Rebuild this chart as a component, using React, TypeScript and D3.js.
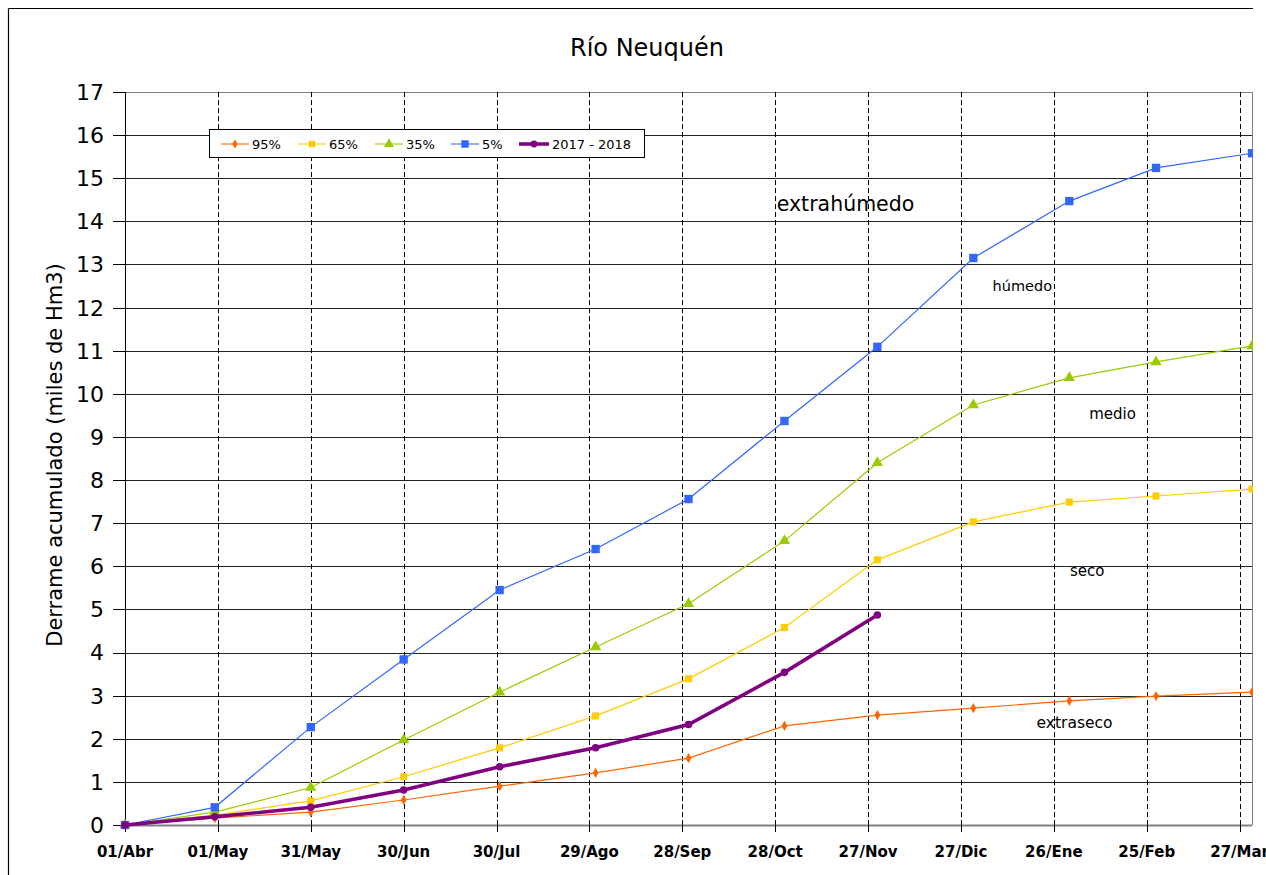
import React from "react";
import * as d3 from "d3";

const dates: Date[] = [
  new Date(Date.UTC(2017, 3, 1)),
  new Date(Date.UTC(2017, 3, 30)),
  new Date(Date.UTC(2017, 4, 31)),
  new Date(Date.UTC(2017, 5, 30)),
  new Date(Date.UTC(2017, 6, 31)),
  new Date(Date.UTC(2017, 7, 31)),
  new Date(Date.UTC(2017, 8, 30)),
  new Date(Date.UTC(2017, 9, 31)),
  new Date(Date.UTC(2017, 10, 30)),
  new Date(Date.UTC(2017, 11, 31)),
  new Date(Date.UTC(2018, 0, 31)),
  new Date(Date.UTC(2018, 1, 28)),
  new Date(Date.UTC(2018, 2, 31)),
];

const p95 = [0, 0.16, 0.3, 0.58, 0.9, 1.21, 1.55, 2.3, 2.55, 2.71, 2.88, 2.99, 3.08];
const p65 = [0, 0.23, 0.56, 1.12, 1.79, 2.53, 3.39, 4.58, 6.15, 7.03, 7.49, 7.63, 7.79];
const p35 = [0, 0.3, 0.87, 1.97, 3.08, 4.13, 5.13, 6.59, 8.4, 9.74, 10.37, 10.74, 11.11];
const p5 = [0, 0.41, 2.27, 3.84, 5.45, 6.4, 7.56, 9.37, 11.09, 13.15, 14.47, 15.24, 15.58];
const y2017 = [0, 0.19, 0.41, 0.81, 1.35, 1.79, 2.33, 3.54, 4.87];

const tickLabels = ["01/Abr", "01/May", "31/May", "30/Jun", "30/Jul", "29/Ago", "28/Sep", "28/Oct", "27/Nov", "27/Dic", "26/Ene", "25/Feb", "27/Mar"];
const yTicks = d3.range(0, 18);

// annotation anchors: days after 01/Abr and value (left edge / baseline)
const annotations = [
  { text: "extrahúmedo", day: 210.5, v: 14.25, size: 20.5 },
  { text: "húmedo", day: 280.2, v: 12.39, size: 14.5 },
  { text: "medio", day: 311.4, v: 9.41, size: 15 },
  { text: "seco", day: 305.2, v: 5.78, size: 15 },
  { text: "extraseco", day: 294.4, v: 2.24, size: 15.5 },
];

type Series = { name: string; values: number[]; color: string; width: number; symbol: d3.SymbolType; size: number };
const series: Series[] = [
  { name: "95%", values: p95, color: "#FF6600", width: 1.2, symbol: d3.symbolDiamond, size: 30 },
  { name: "65%", values: p65, color: "#FFCC00", width: 1.2, symbol: d3.symbolSquare, size: 50 },
  { name: "35%", values: p35, color: "#99CC00", width: 1.2, symbol: d3.symbolTriangle, size: 55 },
  { name: "5%", values: p5, color: "#3366FF", width: 1.2, symbol: d3.symbolSquare, size: 70 },
  { name: "2017 - 2018", values: y2017, color: "#800080", width: 3.5, symbol: d3.symbolCircle, size: 45 },
];

const FONT = "'DejaVu Sans', Verdana, sans-serif";

export default function App() {
  const L = 125, R = 1252, T = 92, B = 825;
  const start = dates[0];
  const end = dates[dates.length - 1];
  const x = d3.scaleUtc().domain([start, end]).range([L, R]);
  const y = d3.scaleLinear().domain([0, 17]).range([B, T]);
  const tickDates = tickLabels.map((_, i) => d3.utcDay.offset(start, i * 30));
  const dayX = (day: number) => x(new Date(start.getTime() + day * 86400000));

  const line = d3
    .line<number>()
    .x((_, i) => x(dates[i]))
    .y((d) => y(d));

  return (
    <svg width={1266} height={875} style={{ position: "absolute", left: 0, top: 0, background: "#fff" }} fontFamily={FONT}>
      <rect x={0} y={0} width={1266} height={875} fill="#fff" />
      {/* outer frame */}
      <line x1={8.5} y1={8.5} x2={1253} y2={8.5} stroke="#000" strokeWidth={1.2} />
      <line x1={8.5} y1={8.5} x2={8.5} y2={875} stroke="#000" strokeWidth={1.2} />

      <text x={647} y={56} textAnchor="middle" fontSize={24} fill="#000">Río Neuquén</text>

      <defs>
        <clipPath id="plotclip">
          <rect x={L - 8} y={T - 8} width={R - L + 9} height={B - T + 16} />
        </clipPath>
      </defs>

      {/* horizontal grid */}
      {yTicks.map((t) => (
        <line key={"h" + t} x1={L} x2={R} y1={Math.round(y(t)) + 0.5} y2={Math.round(y(t)) + 0.5}
          stroke={t === 0 || t === 17 ? "#808080" : "#222"} strokeWidth={t === 0 ? 2 : 1} />
      ))}
      {/* vertical dashed grid */}
      {tickDates.slice(1).map((d, i) => (
        <line key={"v" + i} x1={Math.round(x(d)) + 0.5} x2={Math.round(x(d)) + 0.5} y1={T} y2={B}
          stroke="#000" strokeWidth={1} strokeDasharray="5,3" />
      ))}
      {/* plot border */}
      <line x1={L + 0.5} x2={L + 0.5} y1={T} y2={B} stroke="#000" strokeWidth={1} />
      <line x1={R + 0.5} x2={R + 0.5} y1={T} y2={B} stroke="#808080" strokeWidth={1} />

      {/* y ticks */}
      {yTicks.map((t) => (
        <g key={"yt" + t}>
          <line x1={113} x2={L} y1={Math.round(y(t)) + 0.5} y2={Math.round(y(t)) + 0.5} stroke="#000" strokeWidth={1} />
          <text x={104} y={y(t)} dy="0.36em" textAnchor="end" fontSize={22} fill="#000">{t}</text>
        </g>
      ))}
      {/* x ticks */}
      {tickDates.map((d, i) => (
        <g key={"xt" + i}>
          <line x1={Math.round(x(d)) + 0.5} x2={Math.round(x(d)) + 0.5} y1={B} y2={B + 7} stroke="#000" strokeWidth={1} />
          <text x={x(d)} y={857} textAnchor="middle" fontSize={15} fontWeight="bold" fill="#000">{tickLabels[i]}</text>
        </g>
      ))}

      <text transform={`translate(62,455) rotate(-90)`} textAnchor="middle" fontSize={21} fill="#000">
        Derrame acumulado (miles de Hm3)
      </text>

      {annotations.map((a, i) => (
        <text key={"a" + i} x={dayX(a.day)} y={y(a.v)} textAnchor="start" fontSize={a.size} fill="#000">{a.text}</text>
      ))}

      <g clipPath="url(#plotclip)">
        {series.map((s) => (
          <g key={s.name}>
            <path d={line(s.values) || ""} fill="none" stroke={s.color} strokeWidth={s.width} />
            {s.values.map((v, i) => (
              <path key={i} transform={`translate(${x(dates[i])},${y(v)})`} d={d3.symbol(s.symbol, s.size)() || ""} fill={s.color} />
            ))}
          </g>
        ))}
      </g>

      {/* legend */}
      <rect x={209.5} y={129.5} width={435} height={28} fill="#fff" stroke="#000" strokeWidth={1} />
      {series.map((s, i) => {
        const lx = [221, 298, 375, 451, 519][i];
        const len = i === 4 ? 30 : 28;
        return (
          <g key={"lg" + i}>
            <line x1={lx} x2={lx + len} y1={144} y2={144} stroke={s.color} strokeWidth={s.width === 3.5 ? 3.5 : 1.5} opacity={i === 4 ? 1 : 0.7} />
            <path transform={`translate(${lx + len / 2},144)`} d={d3.symbol(s.symbol, s.size * 0.8)() || ""} fill={s.color} />
            <text x={lx + len + 3} y={144} dy="0.36em" fontSize={13} fill="#000">{s.name}</text>
          </g>
        );
      })}
    </svg>
  );
}
